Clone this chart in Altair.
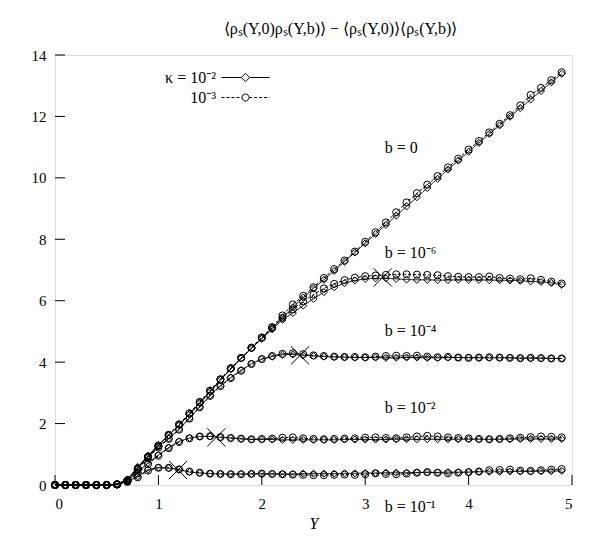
import altair as alt
import pandas as pd

# ---------------- data ----------------
Y = [0.0, 0.1, 0.2, 0.3, 0.4, 0.5, 0.6, 0.7, 0.8, 0.9,
     1.0, 1.1, 1.2, 1.3, 1.4, 1.5, 1.6, 1.7, 1.8, 1.9,
     2.0, 2.1, 2.2, 2.3, 2.4, 2.5, 2.6, 2.7, 2.8, 2.9,
     3.0, 3.1, 3.2, 3.3, 3.4, 3.5, 3.6, 3.7, 3.8, 3.9,
     4.0, 4.1, 4.2, 4.3, 4.4, 4.5, 4.6, 4.7, 4.8, 4.9]

KAPPA = ["κ = 10⁻²", "10⁻³"]
B_NAMES = ["b = 0", "b = 10⁻⁶", "b = 10⁻⁴", "b = 10⁻²", "b = 10⁻¹"]

# kappa = 1e-2 (solid, diamonds)
b0_k2 = [0, 0, 0, 0, 0, 0, 0.03, 0.18, 0.58, 0.95,
         1.30, 1.62, 1.95, 2.30, 2.67, 3.04, 3.42, 3.78, 4.12, 4.45,
         4.78, 5.10, 5.44, 5.78, 6.10, 6.40, 6.68, 6.97, 7.27, 7.57,
         7.87, 8.17, 8.47, 8.77, 9.07, 9.37, 9.67, 9.97, 10.27, 10.56,
         10.85, 11.14, 11.43, 11.71, 11.99, 12.27, 12.55, 12.83, 13.11, 13.39]
b6_k2 = [0, 0, 0, 0, 0, 0, 0.03, 0.18, 0.58, 0.95,
         1.30, 1.62, 1.95, 2.30, 2.67, 3.04, 3.42, 3.78, 4.12, 4.45,
         4.76, 5.07, 5.38, 5.60, 5.84, 6.06, 6.28, 6.44, 6.57, 6.66,
         6.71, 6.73, 6.73, 6.71, 6.69, 6.68, 6.68, 6.67, 6.67, 6.68,
         6.68, 6.68, 6.67, 6.67, 6.66, 6.65, 6.63, 6.61, 6.58, 6.52]
b4_k2 = [0, 0, 0, 0, 0, 0, 0.03, 0.17, 0.55, 0.92,
         1.25, 1.52, 1.82, 2.18, 2.55, 2.92, 3.24, 3.50, 3.74, 3.95,
         4.10, 4.18, 4.24, 4.25, 4.22, 4.20, 4.18, 4.17, 4.16, 4.15,
         4.15, 4.15, 4.14, 4.14, 4.15, 4.15, 4.14, 4.14, 4.15, 4.15,
         4.15, 4.14, 4.14, 4.14, 4.14, 4.13, 4.13, 4.13, 4.12, 4.12]
b2_k2 = [0, 0, 0, 0, 0, 0, 0.02, 0.14, 0.42, 0.72,
         0.98, 1.22, 1.42, 1.53, 1.58, 1.58, 1.55, 1.53, 1.50, 1.48,
         1.48, 1.48, 1.47, 1.47, 1.47, 1.47, 1.47, 1.47, 1.48, 1.48,
         1.48, 1.48, 1.48, 1.49, 1.49, 1.49, 1.49, 1.49, 1.49, 1.49,
         1.49, 1.49, 1.49, 1.49, 1.49, 1.50, 1.50, 1.50, 1.50, 1.50]
b1_k2 = [0, 0, 0, 0, 0, 0, 0.02, 0.12, 0.28, 0.50,
         0.57, 0.55, 0.50, 0.42, 0.39, 0.37, 0.36, 0.36, 0.36, 0.36,
         0.36, 0.36, 0.36, 0.36, 0.37, 0.37, 0.37, 0.37, 0.38, 0.38,
         0.39, 0.39, 0.40, 0.40, 0.40, 0.41, 0.41, 0.41, 0.42, 0.42,
         0.42, 0.43, 0.43, 0.43, 0.44, 0.44, 0.44, 0.45, 0.45, 0.46]

# kappa = 1e-3 (dashed, circles)
b0_k3 = [0, 0, 0, 0, 0, 0, 0.02, 0.15, 0.52, 0.92,
         1.28, 1.63, 1.97, 2.33, 2.70, 3.07, 3.44, 3.80, 4.14, 4.47,
         4.80, 5.14, 5.52, 5.88, 6.16, 6.44, 6.74, 7.03, 7.31, 7.60,
         7.92, 8.23, 8.55, 8.88, 9.20, 9.50, 9.78, 10.06, 10.34, 10.62,
         10.92, 11.20, 11.48, 11.76, 12.04, 12.36, 12.70, 12.93, 13.18, 13.44]
b6_k3 = [0, 0, 0, 0, 0, 0, 0.02, 0.15, 0.52, 0.92,
         1.28, 1.63, 1.97, 2.33, 2.70, 3.07, 3.44, 3.80, 4.14, 4.47,
         4.80, 5.12, 5.44, 5.72, 5.98, 6.20, 6.40, 6.55, 6.67, 6.75,
         6.80, 6.82, 6.84, 6.86, 6.86, 6.85, 6.84, 6.83, 6.80, 6.78,
         6.77, 6.77, 6.79, 6.74, 6.72, 6.70, 6.73, 6.68, 6.62, 6.56]
b4_k3 = [0, 0, 0, 0, 0, 0, 0.02, 0.14, 0.50, 0.88,
         1.22, 1.50, 1.80, 2.16, 2.53, 2.90, 3.22, 3.48, 3.72, 3.94,
         4.10, 4.20, 4.27, 4.29, 4.26, 4.22, 4.20, 4.18, 4.17, 4.17,
         4.16, 4.18, 4.20, 4.21, 4.20, 4.21, 4.18, 4.16, 4.17, 4.15,
         4.14, 4.15, 4.16, 4.15, 4.14, 4.13, 4.14, 4.13, 4.12, 4.12]
b2_k3 = [0, 0, 0, 0, 0, 0, 0.02, 0.12, 0.38, 0.68,
         0.95, 1.20, 1.40, 1.52, 1.58, 1.59, 1.56, 1.53, 1.51, 1.49,
         1.50, 1.51, 1.54, 1.55, 1.52, 1.50, 1.49, 1.50, 1.51, 1.52,
         1.54, 1.55, 1.53, 1.52, 1.55, 1.58, 1.60, 1.58, 1.55, 1.53,
         1.52, 1.50, 1.49, 1.50, 1.52, 1.54, 1.56, 1.58, 1.57, 1.55]
b1_k3 = [0, 0, 0, 0, 0, 0, 0.02, 0.10, 0.25, 0.47,
         0.56, 0.56, 0.51, 0.44, 0.40, 0.37, 0.36, 0.35, 0.35, 0.36,
         0.37, 0.36, 0.35, 0.34, 0.33, 0.32, 0.32, 0.33, 0.34, 0.33,
         0.35, 0.38, 0.36, 0.35, 0.37, 0.40, 0.42, 0.40, 0.38, 0.40,
         0.42, 0.44, 0.48, 0.49, 0.50, 0.47, 0.46, 0.48, 0.50, 0.52]

# crossover markers
CROSS_Y = [1.19, 1.56, 2.37, 3.17]
CROSS_V = [0.49, 1.55, 4.22, 6.76]

# curve annotations (data coordinates)
LABEL_X = [3.19, 3.19, 3.19, 3.19, 3.19]
LABEL_V = [10.97, 7.55, 5.0, 2.5, -0.72]

X_TICKS = [0, 1, 2, 3, 4, 5]
Y_TICKS = [0, 2, 4, 6, 8, 10, 12, 14]

TITLE = "⟨ρₛ(Y,0)ρₛ(Y,b)⟩ − ⟨ρₛ(Y,0)⟩⟨ρₛ(Y,b)⟩"

# ---------------- table ----------------
series = [
    (KAPPA[0], B_NAMES[0], b0_k2), (KAPPA[0], B_NAMES[1], b6_k2),
    (KAPPA[0], B_NAMES[2], b4_k2), (KAPPA[0], B_NAMES[3], b2_k2),
    (KAPPA[0], B_NAMES[4], b1_k2),
    (KAPPA[1], B_NAMES[0], b0_k3), (KAPPA[1], B_NAMES[1], b6_k3),
    (KAPPA[1], B_NAMES[2], b4_k3), (KAPPA[1], B_NAMES[3], b2_k3),
    (KAPPA[1], B_NAMES[4], b1_k3),
]
rows = []
for k, b, vals in series:
    for yy, v in zip(Y, vals):
        rows.append({"Y": yy, "v": v, "kappa": k, "b": b, "series": k + "|" + b})
df = pd.DataFrame(rows)

cross_df = pd.DataFrame({"Y": CROSS_Y, "v": CROSS_V})
label_df = pd.DataFrame({"Y": LABEL_X, "v": LABEL_V, "text": B_NAMES})
xt_df = pd.DataFrame({"t": X_TICKS})
yt_df = pd.DataFrame({"t": Y_TICKS})

# ---------------- styling ----------------
W, H = 517, 430
FONT = "Liberation Serif"
TICK = 10

xs = alt.Scale(domain=[0, 5], nice=False, zero=False)
ys = alt.Scale(domain=[0, 14], nice=False, zero=False)

x_axis = alt.Axis(values=X_TICKS, format="d", ticks=False, tickSize=0, domain=False,
                  grid=False, labelFont=FONT, labelFontSize=15, labelPadding=11,
                  labelColor="black", title="Y", titleFont=FONT, titleFontStyle="italic",
                  titleFontWeight="normal", titleFontSize=16, titlePadding=4,
                  titleColor="black")
y_axis = alt.Axis(values=Y_TICKS, format="d", ticks=False, tickSize=0, domain=False,
                  grid=False, labelFont=FONT, labelFontSize=15, labelPadding=9,
                  labelColor="black", title=None)

X = alt.X("Y:Q", scale=xs, axis=x_axis)
V = alt.Y("v:Q", scale=ys, axis=y_axis)

lines = alt.Chart(df).mark_line(color="black", strokeWidth=1).encode(
    x=X, y=V,
    strokeDash=alt.StrokeDash("kappa:N", scale=alt.Scale(domain=KAPPA, range=[[1, 0], [3, 2]]),
                              legend=None),
    detail="series:N",
)

points = alt.Chart(df).mark_point(filled=False, color="black", strokeWidth=1,
                                  size=50, opacity=1).encode(
    x=alt.X("Y:Q", scale=xs), y=alt.Y("v:Q", scale=ys),
    shape=alt.Shape("kappa:N", scale=alt.Scale(domain=KAPPA, range=["diamond", "circle"]),
                    legend=None),
)

crosses = alt.Chart(cross_df).mark_point(
    shape="M-1,-1L1,1M-1,1L1,-1", size=330, color="black", strokeWidth=1,
    filled=False, opacity=1).encode(x=alt.X("Y:Q", scale=xs), y=alt.Y("v:Q", scale=ys))

labels = alt.Chart(label_df).mark_text(align="left", baseline="middle", font=FONT,
                                        fontSize=16, color="black").encode(
    x=alt.X("Y:Q", scale=xs), y=alt.Y("v:Q", scale=ys), text="text:N")

xticks = alt.Chart(xt_df).mark_rule(color="black", strokeWidth=1).encode(
    x=alt.X("t:Q", scale=xs), y=alt.value(H), y2=alt.value(H - TICK))
yticks = alt.Chart(yt_df).mark_rule(color="black", strokeWidth=1).encode(
    y=alt.Y("t:Q", scale=ys), x=alt.value(0), x2=alt.value(TICK))

# legend: line-with-marker glyphs as custom symbol paths (path unit = R px)
R = 10.0
SYM = (2 * R) ** 2
HALF = 24.0 / R          # half length of the legend line, in path units
d = 4.2 / R              # diamond half size
c = 3.5 / R              # circle radius
solid_path = (f"M{-HALF:.3f},0L{-d:.3f},0M{d:.3f},0L{HALF:.3f},0"
              f"M0,{-d:.3f}L{d:.3f},0L0,{d:.3f}L{-d:.3f},0Z")
dash, gap = 3.0 / R, 2.0 / R
segs = []
p = -HALF
while p < -c:
    segs.append(f"M{p:.3f},0L{min(p + dash, -c):.3f},0")
    p += dash + gap
p = c
while p < HALF:
    segs.append(f"M{p:.3f},0L{min(p + dash, HALF):.3f},0")
    p += dash + gap
dashed_path = "".join(segs) + (f"M{c:.3f},0A{c:.3f},{c:.3f} 0 1,1 {-c:.3f},0"
                               f"A{c:.3f},{c:.3f} 0 1,1 {c:.3f},0Z")

legend_layer = alt.Chart(df).transform_filter("false").mark_point(
    filled=False, color="black", strokeWidth=1, opacity=1).encode(
    x=alt.X("Y:Q", scale=xs), y=alt.Y("v:Q", scale=ys),
    shape=alt.Shape("kappa:N",
                    scale=alt.Scale(domain=KAPPA, range=[solid_path, dashed_path]),
                    legend=alt.Legend(title=None, orient="none", legendX=180, legendY=12,
                                      padding=0, symbolSize=SYM,
                                      symbolStrokeWidth=1, symbolStrokeColor="black",
                                      symbolFillColor="transparent",
                                      symbolOffset=0,
                                      labelAlign="right", labelOffset={"expr": "-40"},
                                      labelFont=FONT, labelFontSize=16,
                                      labelColor="black", rowPadding=1,
                                      labelLimit=300)),
)

chart = alt.layer(lines, points, crosses, labels, xticks, yticks, legend_layer).resolve_scale(
    shape="independent"
).properties(
    width=W, height=H,
    title=alt.TitleParams(TITLE, font=FONT, fontSize=16, fontWeight="normal",
                          color="black", anchor="middle", offset=11, dx=27),
    autosize=alt.AutoSizeParams(type="none"),
    padding={"left": 47, "top": 47, "right": 23, "bottom": 50},
).configure_view(stroke="black", strokeWidth=1).configure(background="white")

chart.save("out.html", embed_options={"renderer": "svg", "actions": False})
